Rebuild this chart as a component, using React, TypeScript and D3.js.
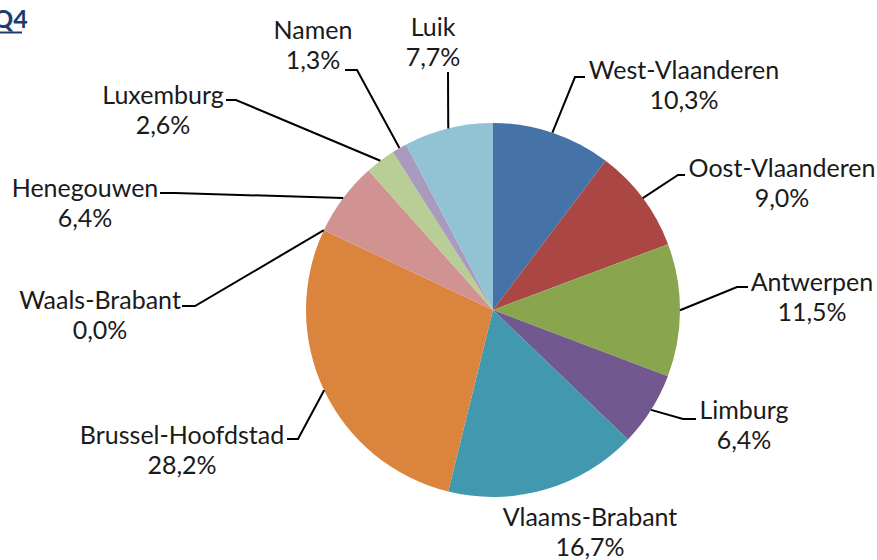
import React from "react";
import * as d3 from "d3";

const categories = [
  "West-Vlaanderen",
  "Oost-Vlaanderen",
  "Antwerpen",
  "Limburg",
  "Vlaams-Brabant",
  "Brussel-Hoofdstad",
  "Waals-Brabant",
  "Henegouwen",
  "Luxemburg",
  "Namen",
  "Luik",
];
const values = [10.3, 9.0, 11.5, 6.4, 16.7, 28.2, 0.0, 6.4, 2.6, 1.3, 7.7];
const colors = [
  "#4572A7", "#AA4643", "#89A54E", "#71588F", "#4198AF", "#DB843D",
  "#93A9CF", "#D19392", "#B9CD96", "#A99BBD", "#92C3D5",
];

// label layout relative to the pie centre: [textCenterX, line1CenterY]
const labelPos: [number, number][] = [
  [191, -240], [289, -142], [319, -28], [251, 100], [97, 207],
  [-311, 125], [-393, -10], [-408, -122], [-330, -215], [-180, -280], [-60, -283],
];
// leader: [endX, endY, elbowX] relative to centre (null = no leader)
const leaders: ([number, number, number] | null)[] = [
  [92, -233, 82], [192, -135, 185], [255, -23, 244], [203, 109, 190], null,
  [-206, 129, -195], [-311, -4, -298], [-333, -117, -318], [-267, -210, -257],
  [-148, -240, -136], [-45, -238, -45],
];

const W = 877, H = 560;
const cx = 493, cy = 310, R = 187;
const FONT = "Lato, 'Liberation Sans', sans-serif";

const fmt = (v: number) => v.toFixed(1).replace(".", ",") + "%";

export default function App() {
  const pie = d3.pie<number>().sort(null).value((d) => d);
  const arcs = pie(values);
  const arcGen = d3.arc<d3.PieArcDatum<number>>().innerRadius(0).outerRadius(R);

  return (
    <div style={{ position: "fixed", left: 0, top: 0, width: W, height: H, background: "#fff" }}>
      <svg width={W} height={H} style={{ display: "block" }}>
        <text x={-7} y={28} fontFamily={FONT} fontWeight={700} fontSize={25} fill="#1F3A70">Q4</text>
        <line x1={0} x2={22} y1={32.5} y2={32.5} stroke="#1F3A70" strokeWidth={2} />
        <g transform={`translate(${cx},${cy})`}>
          {arcs.map((a, i) => (
            <path key={i} d={arcGen(a) || ""} fill={colors[i]} />
          ))}
          {arcs.map((a, i) => {
            const L = leaders[i];
            if (!L) return null;
            const mid = (a.startAngle + a.endAngle) / 2;
            const sx = R * Math.sin(mid);
            const sy = -R * Math.cos(mid);
            const pts = [[sx, sy], [L[2], L[1]], [L[0], L[1]]];
            return (
              <polyline key={"l" + i} points={pts.map((p) => p.join(",")).join(" ")}
                fill="none" stroke="#000" strokeWidth={2} />
            );
          })}
          {arcs.map((a, i) => {
            const [lx, ly] = labelPos[i];
            return (
              <text key={"t" + i} textAnchor="middle" fontFamily={FONT} fontSize={25} fill="#1a1a1a">
                <tspan x={lx} y={ly + 8.5}>{categories[i]}</tspan>
                <tspan x={lx} y={ly + 38.5}>{fmt(values[i])}</tspan>
              </text>
            );
          })}
        </g>
      </svg>
    </div>
  );
}
